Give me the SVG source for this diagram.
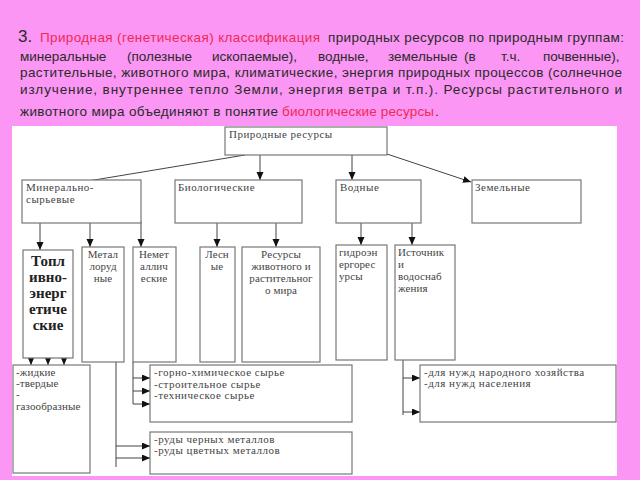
<svg xmlns="http://www.w3.org/2000/svg" width="640" height="480" viewBox="0 0 640 480">
<defs>
<marker id="ah" markerUnits="userSpaceOnUse" markerWidth="9" markerHeight="8" refX="8" refY="3.5" orient="auto">
<path d="M0,0 L8,3.5 L0,7 z" fill="#111"/>
</marker>
<style>
.h{font-family:"Liberation Sans",Arial,sans-serif;font-size:13.5px;fill:#2a2a2a}
.r{fill:#ee2a55}
.b{fill:#fff;stroke:#777;stroke-width:1.2}
.t{font-family:"Liberation Serif","Times New Roman",serif;font-size:11px;letter-spacing:0.5px;fill:#444}
.n{letter-spacing:0.1px}
.c{text-anchor:middle}
.big{font-family:"Liberation Serif","Times New Roman",serif;font-size:15px;font-weight:bold;fill:#222;text-anchor:middle}
.ln{fill:none;stroke:#444;stroke-width:1}
.ar{fill:none;stroke:#444;stroke-width:1;marker-end:url(#ah)}
</style>
</defs>
<rect x="0" y="0" width="640" height="480" fill="#fc96f4"/>
<rect x="12" y="126" width="605" height="350" fill="#fff"/>

<g id="heading">
<text class="h" y="42"><tspan x="18" font-size="17">3.</tspan><tspan x="40" class="r" textLength="280" lengthAdjust="spacing">Природная (генетическая) классификация</tspan><tspan x="328" textLength="296" lengthAdjust="spacing">природных ресурсов по природным группам:</tspan></text>
<text class="h" y="61"><tspan x="20">минеральные</tspan><tspan x="127">(полезные</tspan><tspan x="212">ископаемые),</tspan><tspan x="318">водные,</tspan><tspan x="388">земельные</tspan><tspan x="464">(в</tspan><tspan x="501">т.ч.</tspan><tspan x="543">почвенные),</tspan></text>
<text class="h" y="77" x="20" textLength="602" lengthAdjust="spacing">растительные, животного мира, климатические, энергия природных процессов (солнечное</text>
<text class="h" y="94" x="20" textLength="602" lengthAdjust="spacing">излучение, внутреннее тепло Земли, энергия ветра и т.п.). Ресурсы растительного и</text>
<text class="h" y="116"><tspan x="20" textLength="258" lengthAdjust="spacing">животного мира объединяют в понятие</tspan><tspan x="282" class="r" textLength="152" lengthAdjust="spacing">биологические ресурсы</tspan><tspan x="435">.</tspan></text>
</g>

<g id="connectors">
<line class="ar" x1="245" y1="155" x2="64" y2="185"/>
<line class="ar" x1="260" y1="155" x2="260" y2="180"/>
<line class="ar" x1="352" y1="155" x2="352" y2="180"/>
<line class="ar" x1="387" y1="154" x2="471" y2="182"/>
<line class="ar" x1="40" y1="223" x2="40" y2="250"/>
<line class="ar" x1="90" y1="223" x2="90" y2="247"/>
<line class="ar" x1="141" y1="221" x2="141" y2="247"/>
<line class="ar" x1="217" y1="223" x2="217" y2="247"/>
<line class="ar" x1="276" y1="223" x2="276" y2="247"/>
<line class="ar" x1="361" y1="223" x2="361" y2="245"/>
<line class="ar" x1="412" y1="223" x2="412" y2="245"/>
<line class="ar" x1="31" y1="352" x2="31" y2="365"/>
<line class="ar" x1="48" y1="352" x2="48" y2="365"/>
<line class="ar" x1="64" y1="352" x2="64" y2="365"/>
<line class="ln" x1="133" y1="362" x2="133" y2="404"/>
<line class="ar" x1="133" y1="378" x2="150" y2="378"/>
<line class="ar" x1="133" y1="391" x2="150" y2="391"/>
<line class="ar" x1="133" y1="404" x2="150" y2="404"/>
<line class="ln" x1="116" y1="350" x2="116" y2="467"/>
<line class="ar" x1="116" y1="446" x2="150" y2="446"/>
<line class="ar" x1="116" y1="458" x2="150" y2="458"/>
<line class="ln" x1="403" y1="352" x2="403" y2="415"/>
<line class="ar" x1="403" y1="378" x2="420" y2="378"/>
<line class="ar" x1="403" y1="412" x2="420" y2="412"/>
</g>

<g id="prirodnye">
<rect class="b" x="225" y="127" width="162" height="28"/>
<text class="t" x="229" y="138">Природные ресурсы</text>
</g>
<g id="mineralnye">
<rect class="b" x="22" y="180" width="119" height="43"/>
<text class="t" x="26" y="191">Минерально-</text>
<text class="t" x="26" y="203">сырьевые</text>
</g>
<g id="biologicheskie">
<rect class="b" x="175" y="180" width="127" height="43"/>
<text class="t" x="178" y="191">Биологические</text>
</g>
<g id="vodnye">
<rect class="b" x="336" y="180" width="85" height="43"/>
<text class="t" x="340" y="191">Водные</text>
</g>
<g id="zemelnye">
<rect class="b" x="472" y="180" width="109" height="43"/>
<text class="t" x="475" y="191">Земельные</text>
</g>

<g id="toplivno">
<rect class="b" x="23" y="250" width="50" height="108"/>
<text class="big" x="48" y="266">Топл</text>
<text class="big" x="48" y="282">ивно-</text>
<text class="big" x="48" y="298">энерг</text>
<text class="big" x="48" y="314">етиче</text>
<text class="big" x="48" y="330">ские</text>
</g>
<g id="metal">
<rect class="b" x="82" y="247" width="42" height="115"/>
<text class="t n c" x="103" y="258">Метал</text>
<text class="t n c" x="103" y="270">лоруд</text>
<text class="t n c" x="103" y="282">ные</text>
</g>
<g id="nemet">
<rect class="b" x="133" y="247" width="43" height="115"/>
<text class="t n c" x="154" y="258">Немет</text>
<text class="t n c" x="154" y="270">аллич</text>
<text class="t n c" x="154" y="282">еские</text>
</g>
<g id="lesnye">
<rect class="b" x="200" y="247" width="35" height="115"/>
<text class="t n c" x="217" y="258">Лесн</text>
<text class="t n c" x="217" y="270">ые</text>
</g>
<g id="resursy">
<rect class="b" x="242" y="247" width="78" height="115"/>
<text class="t n c" x="281" y="258">Ресурсы</text>
<text class="t n c" x="281" y="270">животного и</text>
<text class="t n c" x="281" y="282">растительног</text>
<text class="t n c" x="281" y="294">о мира</text>
</g>
<g id="gidro">
<rect class="b" x="336" y="245" width="51" height="115"/>
<text class="t n" x="339" y="256">гидроэн</text>
<text class="t n" x="339" y="268">ергорес</text>
<text class="t n" x="339" y="280">урсы</text>
</g>
<g id="istochniki">
<rect class="b" x="395" y="245" width="60" height="115"/>
<text class="t n" x="398" y="256">Источник</text>
<text class="t n" x="398" y="268">и</text>
<text class="t n" x="398" y="280">водоснаб</text>
<text class="t n" x="398" y="292">жения</text>
</g>

<g id="toplivo-vidy">
<rect class="b" x="13" y="365" width="77" height="108"/>
<text class="t n" x="16" y="376">-жидкие</text>
<text class="t n" x="16" y="387">-твердые</text>
<text class="t n" x="16" y="398">-</text>
<text class="t n" x="16" y="410">газообразные</text>
</g>
<g id="nemet-vidy">
<rect class="b" x="150" y="365" width="202" height="57"/>
<text class="t" x="154" y="376">-горно-химическое сырье</text>
<text class="t" x="154" y="388">-строительное сырье</text>
<text class="t" x="154" y="399">-техническое сырье</text>
</g>
<g id="rudy">
<rect class="b" x="150" y="432" width="202" height="42"/>
<text class="t" x="154" y="443">-руды черных металлов</text>
<text class="t" x="154" y="454">-руды цветных металлов</text>
</g>
<g id="nuzhdy">
<rect class="b" x="420" y="365" width="196" height="57"/>
<text class="t" x="424" y="376">-для нужд народного хозяйства</text>
<text class="t" x="424" y="387">-для нужд населения</text>
</g>
</svg>
